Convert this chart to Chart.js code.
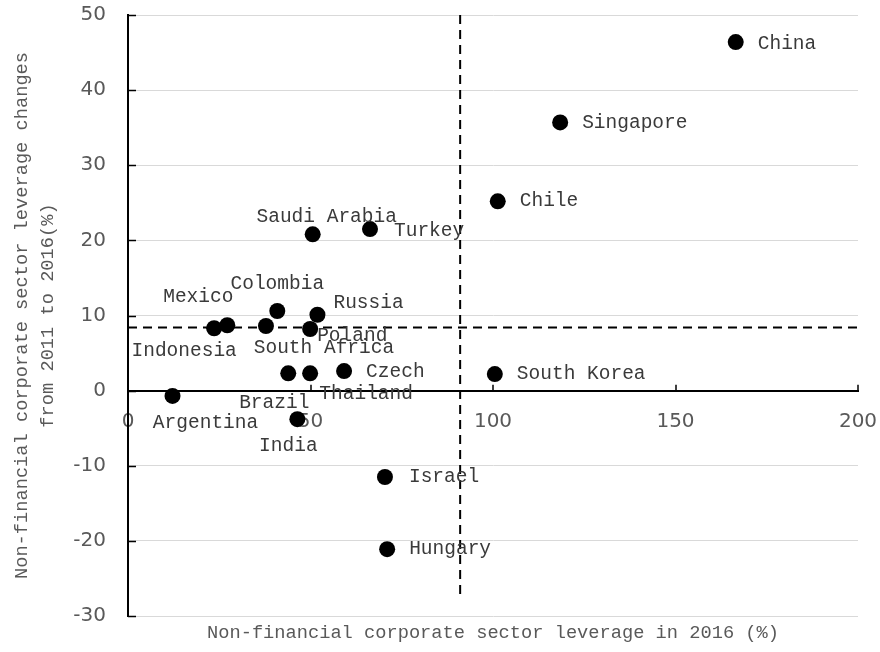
<!DOCTYPE html>
<html>
<head>
<meta charset="utf-8">
<script src="https://cdn.jsdelivr.net/npm/chart.js@4.4.1/dist/chart.umd.min.js"></script>
<style>
  html, body { margin: 0; padding: 0; background: #fff; }
  #wrap { width: 880px; height: 652px; position: relative; }
</style>
</head>
<body>
<div id="wrap"><canvas id="chart"></canvas></div>
<script>
// leverage in 2016 (x) and change from 2011 to 2016 (y)
var countries = ['China', 'Singapore', 'Chile', 'South Korea', 'Saudi Arabia', 'Turkey',
    'Colombia', 'Russia', 'Mexico', 'Indonesia', 'South Africa', 'Poland', 'Brazil',
    'Thailand', 'Czech', 'Argentina', 'India', 'Israel', 'Hungary'];
var leverage2016 = [166.5, 118.4, 101.3, 100.5, 50.6, 66.3, 40.9, 51.9, 27.2, 23.6,
    37.8, 49.9, 43.9, 49.9, 59.2, 12.2, 46.4, 70.4, 71.0];
var leverageChange = [46.4, 35.7, 25.2, 2.2, 20.8, 21.5, 10.6, 10.1, 8.7, 8.3,
    8.6, 8.2, 2.3, 2.3, 2.6, -0.7, -3.8, -11.5, -21.1];

// the two dashed reference lines
var refLeverage = 91;
var refChange = 8.4;
var refLeverageSpan = [50, -27.6];
var refChangeSpan = [0, 200];

var xTicks = [0, 50, 100, 150, 200];
var yTicks = [-30, -20, -10, 0, 10, 20, 30, 40, 50];

var xTitle = 'Non-financial corporate sector leverage in 2016 (%)';
var yTitle = ['Non-financial corporate sector leverage changes', 'from 2011 to 2016(%)'];

/**
 * where each country name sits next to its dot (px offset, alignment)
 */
var labelPlacement = {
    'China': [22, 2, 'left'],
    'Singapore': [22, 0, 'left'],
    'Chile': [22, 0, 'left'],
    'South Korea': [22, 0, 'left'],
    'Saudi Arabia': [14, -18, 'center'],
    'Turkey': [24, 2, 'left'],
    'Colombia': [0, -27, 'center'],
    'Russia': [16, -12, 'left'],
    'Mexico': [-29, -28, 'center'],
    'Indonesia': [-30, 23, 'center'],
    'South Africa': [58, 22, 'center'],
    'Poland': [7, 7, 'left'],
    'Brazil': [-14, 29, 'center'],
    'Thailand': [56, 20, 'center'],
    'Czech': [22, 1, 'left'],
    'Argentina': [33, 27, 'center'],
    'India': [-9, 27, 'center'],
    'Israel': [24, 0, 'left'],
    'Hungary': [22, 0, 'left']
};

var monoFont = "'Liberation Mono', 'DejaVu Sans Mono', monospace";
var tickFont = { family: "'DejaVu Sans', sans-serif", size: 20 };
var titleFont = { family: monoFont, size: 18.7, lineHeight: 1.39 };

var points = countries.map(function (c, i) {
    return { x: leverage2016[i], y: leverageChange[i] };
});

var pointLabels = {
    id: 'pointLabels',
    afterDatasetsDraw: function (chart) {
        var ctx = chart.ctx;
        var meta = chart.getDatasetMeta(0);
        ctx.save();
        ctx.font = '19.5px ' + monoFont;
        ctx.fillStyle = '#3a3a3a';
        ctx.textBaseline = 'middle';
        meta.data.forEach(function (el, i) {
            var p = labelPlacement[countries[i]];
            ctx.textAlign = p[2];
            ctx.fillText(countries[i], el.x + p[0], el.y + p[1]);
        });
        ctx.restore();
    }
};

// small tick marks drawn inside the plot, like the original
var innerTicks = {
    id: 'innerTicks',
    afterDraw: function (chart) {
        var ctx = chart.ctx;
        var area = chart.chartArea;
        var ys = chart.scales.y;
        var xs = chart.scales.x0;
        var y0 = ys.getPixelForValue(0);
        ctx.save();
        ctx.strokeStyle = '#000';
        ctx.lineWidth = 1.5;
        ctx.beginPath();
        yTicks.forEach(function (v) {
            var py = Math.round(ys.getPixelForValue(v)) + 0.5;
            ctx.moveTo(area.left, py);
            ctx.lineTo(area.left + 8, py);
        });
        xTicks.forEach(function (v) {
            if (v === 0) return;
            var px = Math.round(xs.getPixelForValue(v));
            ctx.moveTo(px, y0);
            ctx.lineTo(px, y0 - 6);
        });
        ctx.stroke();
        ctx.restore();
    }
};

var fixTicks = function (list) {
    return function (scale) {
        scale.ticks = list.map(function (v) { return { value: v }; });
    };
};

// labels may hang outside the plot; don't let them push the plot area in
var noOverflow = function (s) {
    s.paddingTop = 0;
    s.paddingBottom = 0;
    s.paddingLeft = 0;
    s.paddingRight = 0;
};

new Chart(document.getElementById('chart'), {
    type: 'scatter',
    data: {
        datasets: [{
            data: points,
            xAxisID: 'x',
            backgroundColor: '#000',
            borderWidth: 0,
            pointRadius: 8,
            order: 0
        }, {
            type: 'line',
            data: [{ x: refLeverage, y: refLeverageSpan[0] }, { x: refLeverage, y: refLeverageSpan[1] }],
            xAxisID: 'x',
            borderColor: '#000',
            borderWidth: 2,
            borderDash: [9, 6],
            pointRadius: 0,
            fill: false,
            order: 1
        }, {
            type: 'line',
            data: [{ x: refChangeSpan[0], y: refChange }, { x: refChangeSpan[1], y: refChange }],
            xAxisID: 'x',
            borderColor: '#000',
            borderWidth: 2,
            borderDash: [9, 6],
            pointRadius: 0,
            fill: false,
            order: 1
        }]
    },
    options: {
        responsive: true,
        maintainAspectRatio: false,
        animation: false,
        layout: { padding: { top: 15, right: 22, bottom: 0, left: 0 } },
        plugins: {
            legend: { display: false },
            tooltip: { enabled: false }
        },
        scales: {
            x: {
                type: 'linear',
                position: 'bottom',
                min: xTicks[0],
                max: xTicks[xTicks.length - 1],
                afterBuildTicks: fixTicks(xTicks),
                afterFit: function (s) { s.height = 36; noOverflow(s); },
                grid: { display: false },
                border: { display: false },
                ticks: { display: false },
                title: {
                    display: true,
                    text: xTitle,
                    color: '#595959',
                    font: titleFont,
                    padding: { top: 0, bottom: 6 }
                }
            },
            x0: {
                type: 'linear',
                axis: 'x',
                position: { y: 0 },
                min: xTicks[0],
                max: xTicks[xTicks.length - 1],
                afterBuildTicks: fixTicks(xTicks),
                afterFit: noOverflow,
                grid: { display: false, drawTicks: false },
                border: { display: true, color: '#000', width: 2 },
                ticks: { color: '#595959', font: tickFont, padding: 19, maxRotation: 0 }
            },
            y: {
                type: 'linear',
                min: yTicks[0],
                max: yTicks[yTicks.length - 1],
                afterBuildTicks: fixTicks(yTicks),
                afterFit: function (s) { s.width = 128; noOverflow(s); },
                grid: {
                    drawTicks: false,
                    lineWidth: 1,
                    color: function (c) {
                        return c.tick && c.tick.value === 0 ? 'rgba(0,0,0,0)' : '#d9d9d9';
                    }
                },
                border: { display: true, color: '#000', width: 2 },
                ticks: { color: '#595959', font: tickFont, padding: 22 },
                title: {
                    display: true,
                    text: yTitle,
                    color: '#595959',
                    font: titleFont,
                    padding: { top: 9, bottom: 0 }
                }
            }
        }
    },
    plugins: [pointLabels, innerTicks]
});
</script>
</body>
</html>
